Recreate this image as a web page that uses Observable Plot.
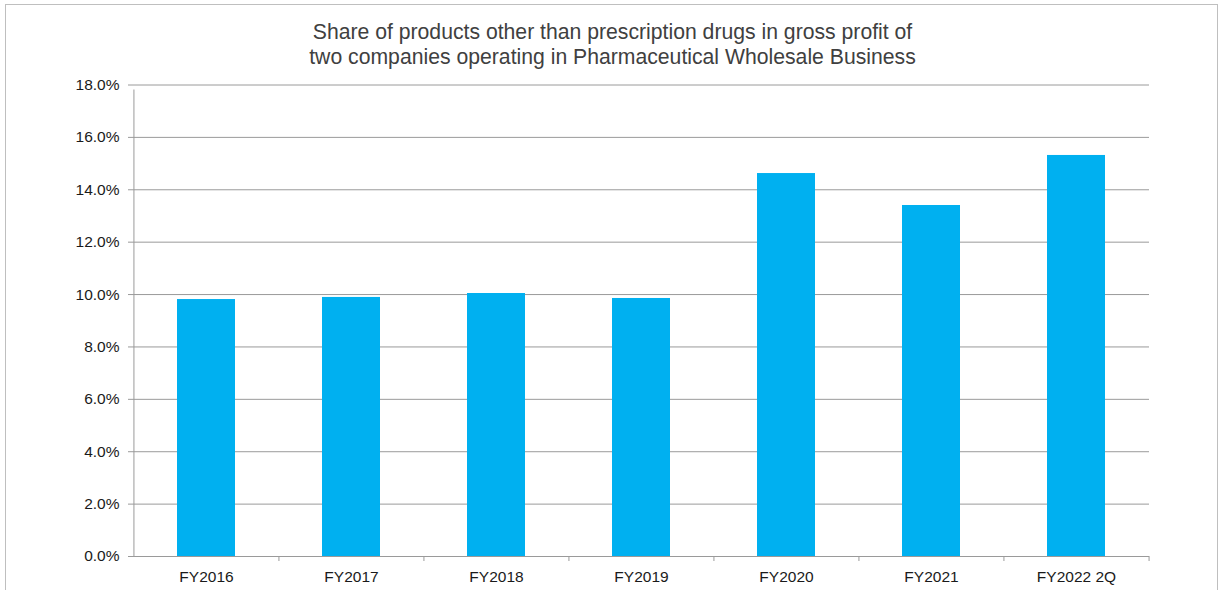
<!DOCTYPE html>
<html>
<head>
<meta charset="utf-8">
<script src="https://cdn.jsdelivr.net/npm/d3@7"></script>
<script src="https://cdn.jsdelivr.net/npm/@observablehq/plot@0.6"></script>
<style>
  html, body { margin: 0; padding: 0; background: #fff; }
  #wrap { position: relative; width: 1225px; height: 590px; overflow: hidden; font-family: "Liberation Sans", Arial, sans-serif; }
  #frame { position: absolute; left: 5px; top: 4px; width: 1213px; height: 700px; border: 1px solid #bfbfbf; box-sizing: border-box; }
  #title { position: absolute; left: 0; top: 18.5px; width: 1225px; text-align: center; font-size: 21.2px; line-height: 25px; color: #404040; }
  #chart { position: absolute; left: 0; top: 0; }
  #chart svg { overflow: visible; }
</style>
</head>
<body>
<div id="wrap">
  <div id="frame"></div>
  <div id="chart"></div>
  <div id="title">Share of products other than prescription drugs in gross profit of<br>two companies operating in Pharmaceutical Wholesale Business</div>
</div>
<script>
const categories = ["FY2016", "FY2017", "FY2018", "FY2019", "FY2020", "FY2021", "FY2022 2Q"];
const shares = [9.81, 9.89, 10.04, 9.85, 14.62, 13.40, 15.31];
const yTicks = [0, 2, 4, 6, 8, 10, 12, 14, 16, 18];

const data = categories.map((c, i) => ({category: c, share: shares[i]}));

const W = 1225, H = 590;
const mL = 133, mR = 76, mT = 84.5, mB = 34;
const step = (W - mL - mR) / categories.length;

const chart = Plot.plot({
  width: W,
  height: H,
  marginLeft: mL,
  marginRight: mR,
  marginTop: mT,
  marginBottom: mB,
  style: {fontFamily: "'Liberation Sans', Arial, sans-serif", fontSize: "15.5px", color: "#1a1a1a", background: "transparent"},
  x: {domain: categories, paddingInner: 0.6, paddingOuter: 0.3, label: null},
  y: {domain: [0, 18], ticks: yTicks, label: null},
  marks: [
    Plot.gridY(yTicks, {stroke: "#9a9a9a", strokeOpacity: 1, strokeWidth: 1}),
    Plot.barY(data, {x: "category", y: "share", fill: "#00B0F0"}),
    Plot.ruleY([0], {stroke: "#9a9a9a", strokeWidth: 1}),
    Plot.ruleX(categories, {x: d => d, dx: -step / 2, y1: 0, y2: 18, insetBottom: -5, stroke: "#9a9a9a", strokeWidth: 1, filter: (d, i) => i === 0}),
    Plot.ruleX(categories, {x: d => d, dx: -step / 2, y1: 0, y2: 0, insetBottom: -5, stroke: "#9a9a9a", strokeWidth: 1, filter: (d, i) => i > 0}),
    Plot.ruleX(categories.slice(-1), {x: d => d, dx: step / 2, y1: 0, y2: 0, insetBottom: -5, stroke: "#9a9a9a", strokeWidth: 1}),
    Plot.axisY(yTicks, {tickFormat: d => d.toFixed(1) + "%", tickSize: 5, tickPadding: 9, fontSize: 15.5, stroke: "#9a9a9a", fill: "#1a1a1a"}),
    Plot.axisX({tickSize: 0, tickPadding: 14, fontSize: 15.5, fill: "#1a1a1a"})
  ]
});
document.getElementById("chart").appendChild(chart);
</script>
</body>
</html>
